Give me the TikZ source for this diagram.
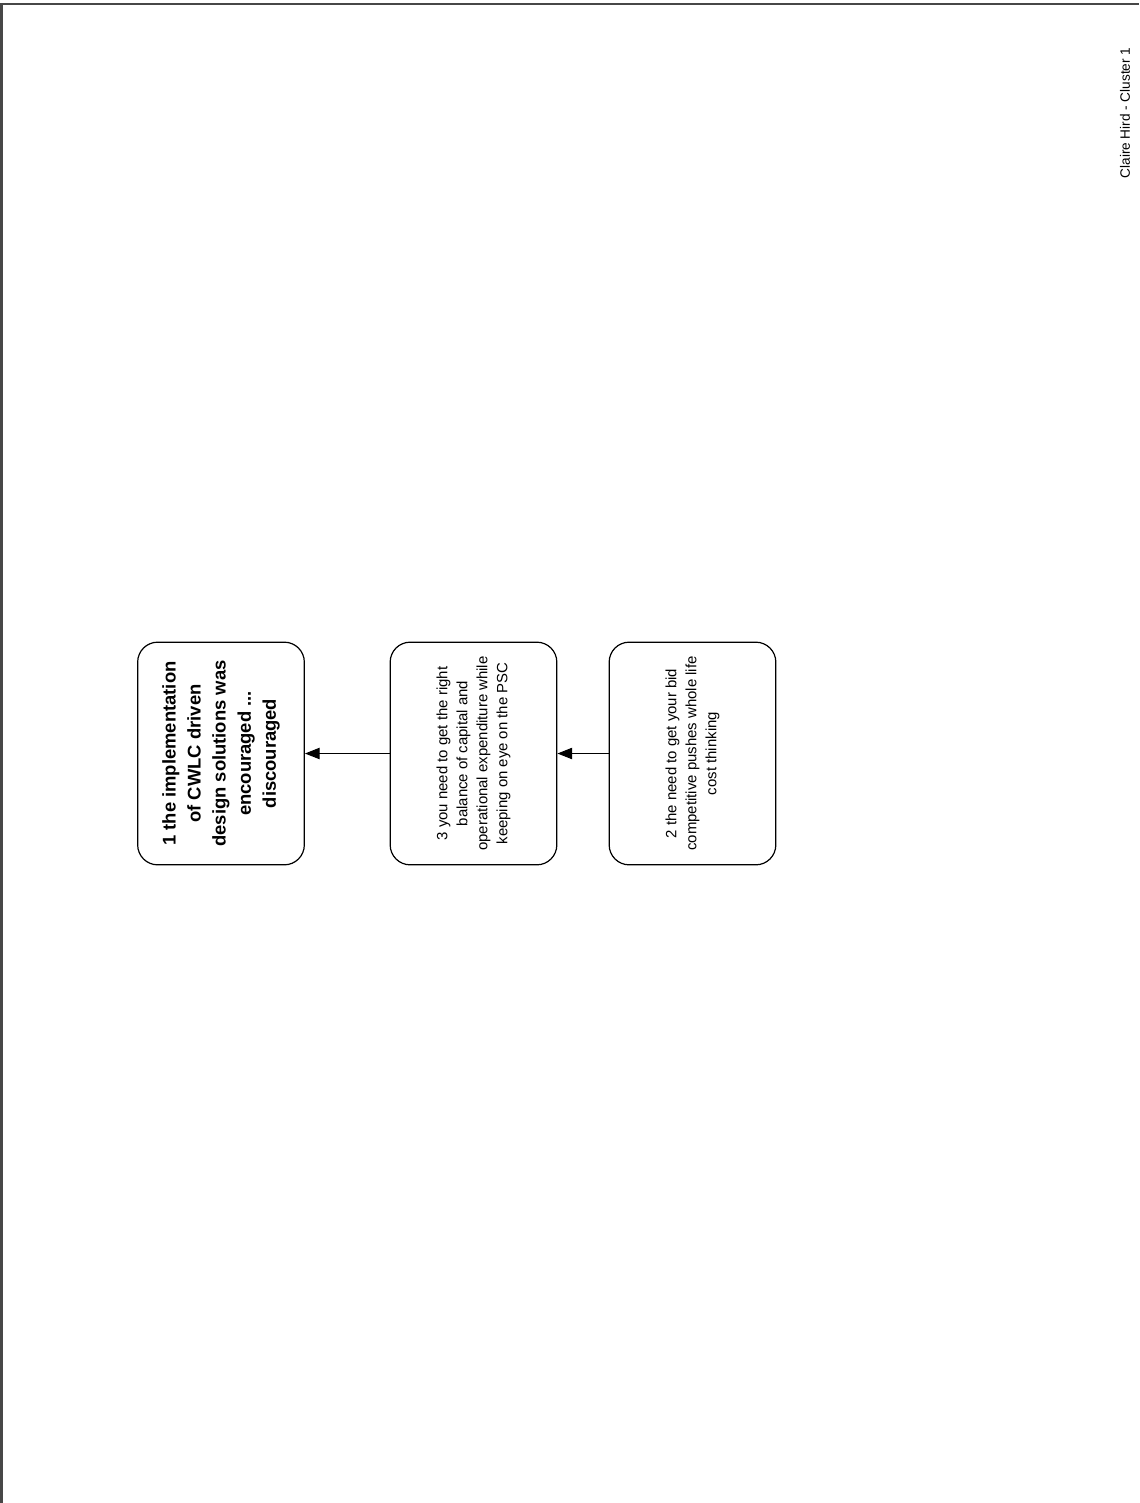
\documentclass[tikz,border=0pt]{standalone}
\usepackage{fontspec}
\setmainfont{Liberation Sans}
\usetikzlibrary{arrows.meta}
\begin{document}
\begin{tikzpicture}[x=0.75pt,y=-0.75pt,
  card/.style={draw=black, line width=0.9pt, rounded corners=15pt, rotate=90,
    minimum width=167pt, minimum height=125pt, align=center, inner sep=0pt},
  plain/.style={font=\fontsize{11.2}{15}\selectfont},
  strong/.style={font=\bfseries\fontsize{13.8}{18.8}\selectfont},
  link/.style={-{Triangle[length=11pt,width=8.5pt]}, line width=0.75pt},
  frame/.style={draw=black!72, line width=1.6pt}]
\useasboundingbox (0,0) rectangle (1139,1503);
% page frame (top and left edges)
\draw[frame] (1.5,1503) -- (1.5,4) -- (1139,4);
% title
\node[rotate=90, font=\fontsize{10.2}{12}\selectfont] (hdr) at (1125,113) {Claire Hird - Cluster 1};
% concept boxes
\node[card, strong] (b1) at (221,753.5)
  {1 the implementation\\of CWLC driven\\design solutions was\\encouraged ...\\discouraged};
\node[card, plain] (b3) at (473.5,753.5)
  {3 you need to get the right\\balance of capital and\\operational expenditure while\\keeping on eye on the PSC};
\node[card, plain] (b2) at (692.5,753.5)
  {2 the need to get your bid\\competitive pushes whole life\\cost thinking};
% links
\draw[link] (b3) -- (b1);
\draw[link] (b2) -- (b3);
\end{tikzpicture}
\end{document}
